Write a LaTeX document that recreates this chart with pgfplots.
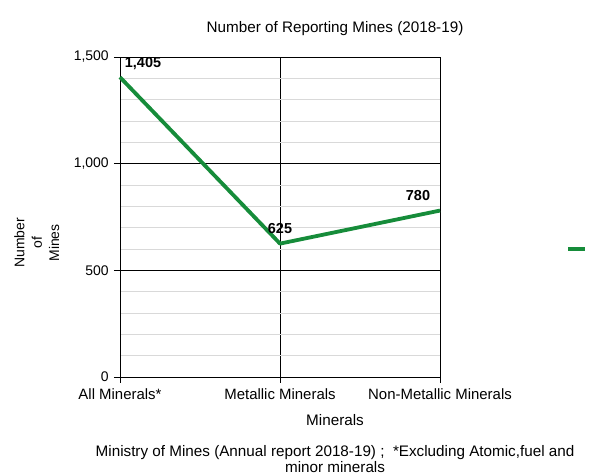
\documentclass[border=0pt]{standalone}
\usepackage{pgfplots}
\pgfplotsset{compat=1.18}
\usepackage{fontspec}
\setmainfont{Liberation Sans}
\definecolor{lgreen}{RGB}{22,140,58}
\pgfplotsset{/pgf/number format/1000 sep={,}, /pgf/number format/assume math mode=true}
\begin{document}
\begin{tikzpicture}
\fontsize{15.3}{17}\selectfont
\begin{axis}[
 scale only axis, width=320bp, height=320bp,
 xmin=0, xmax=2, ymin=0, ymax=1500,
 xtick={0,1,2},
 xticklabels={All Minerals*, Metallic Minerals, Non-Metallic Minerals},
 ytick={0,500,1000,1500},
 minor y tick num=4,
 ymajorgrids, yminorgrids, xmajorgrids,
 major grid style={black, line width=0.6bp},
 minor grid style={gray!30, line width=0.7bp},
 axis line style={black, line width=0.7bp},
 tick style={black, line width=0.6bp},
 tick align=outside, major tick length=6bp, minor tick length=0bp,
 tick pos=left,
 xticklabel style={font=\fontsize{15}{17}\selectfont},
 yticklabel style={font=\fontsize{14}{17}\selectfont},
 clip=false,
 legend style={at={(rel axis cs:1.385,0.4)}, anchor=west, draw=none, fill=none},
]
\addplot[lgreen, line width=3.8bp, line join=round,
  nodes near coords, point meta=explicit,
  visualization depends on={\thisrow{dx} \as \dx},
  visualization depends on={\thisrow{dy} \as \dy},
  nodes near coords style={anchor=center, xshift=\dx bp, yshift=\dy bp, font=\fontsize{14.5}{17}\selectfont\bfseries, text=black},
] table[x=x, y=y, meta=v] {
x y v dx dy
0 1405 1405 23 14
1 625 625 0 15
2 780 780 -22 15
};
\addlegendentry{}
\node at (rel axis cs:0.672,1.0875) {Number of Reporting Mines (2018-19)};
\node at (rel axis cs:0.672,-0.134) {Minerals};
\node[align=center, font=\fontsize{15.3}{16}\selectfont] at (rel axis cs:0.672,-0.257) {Ministry of Mines (Annual report 2018-19) ;\ \ *Excluding Atomic,fuel and\\minor minerals};
\node[rotate=90, align=center, font=\fontsize{14}{17.5}\selectfont] at (rel axis cs:-0.26,0.419) {Number\\of\\Mines};
\coordinate (bl) at (rel axis cs:-0.375,-0.30625);
\coordinate (tr) at (rel axis cs:1.5156,1.178);
\end{axis}
\pgfresetboundingbox
\path[use as bounding box] (bl) rectangle (tr);
\end{tikzpicture}
\end{document}
